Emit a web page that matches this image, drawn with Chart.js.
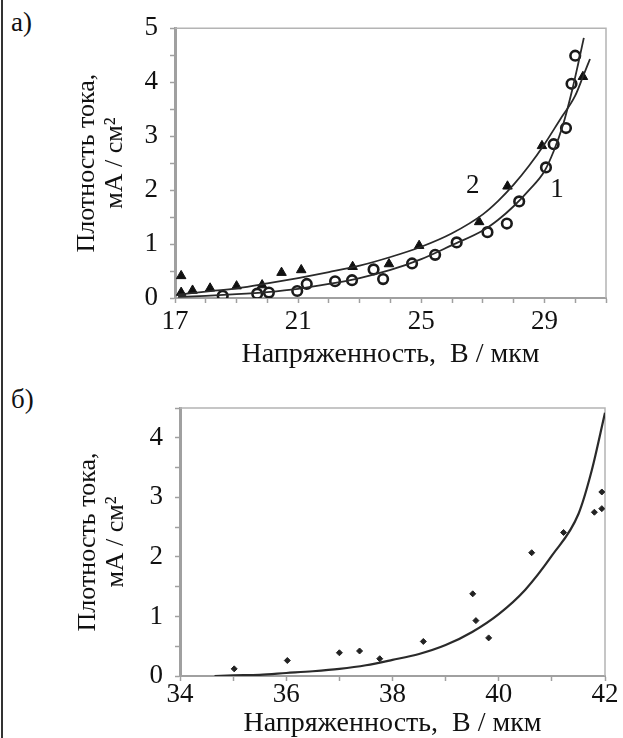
<!DOCTYPE html>
<html lang="ru">
<head>
<meta charset="utf-8">
<title>Плотность тока</title>
<script src="https://cdn.jsdelivr.net/npm/chart.js@4.4.1/dist/chart.umd.min.js"></script>
<style>
  html, body { margin: 0; padding: 0; background: #fff; }
  body { width: 623px; height: 738px; position: relative; overflow: hidden;
         font-family: "Liberation Serif", "Times New Roman", serif; color: #111; }
  .panel { position: absolute; left: 0; width: 623px; height: 369px; }
  .tag { position: absolute; left: 11px; font-size: 27px; line-height: 27px; }
  .rule { position: absolute; left: 1px; top: 0; width: 2px; height: 738px; background: #333; }
</style>
</head>
<body>
<div class="rule"></div>
<div class="tag" style="top:9px">а)</div>
<canvas id="chart-a" class="panel" style="top:0" width="623" height="369"></canvas>
<div class="tag" style="top:386px">б)</div>
<canvas id="chart-b" class="panel" style="top:369px" width="623" height="369"></canvas>

<script>
// --- panel а): two samples, measured points + fitted curves ---
const fieldA1 = [18.55, 19.67, 20.05, 20.97, 21.28, 22.2, 22.75, 23.45, 23.76, 24.7, 25.45, 26.15, 27.15, 27.78, 28.18, 29.05, 29.3, 29.7, 29.88, 30.0];
const currentA1 = [0.04, 0.08, 0.1, 0.13, 0.26, 0.31, 0.33, 0.53, 0.35, 0.64, 0.8, 1.03, 1.22, 1.38, 1.79, 2.42, 2.85, 3.15, 3.97, 4.49];

const fieldA2 = [17.2, 17.2, 17.57, 18.14, 19.0, 19.83, 20.46, 21.1, 22.77, 23.95, 24.93, 26.88, 27.8, 28.92, 30.25];
const currentA2 = [0.41, 0.1, 0.14, 0.18, 0.22, 0.24, 0.47, 0.52, 0.58, 0.63, 0.97, 1.41, 2.07, 2.82, 4.1];

const fitFieldA1 = [17.1, 18, 19, 20, 21, 22, 23, 24, 25, 26, 27, 27.5, 28, 28.5, 29, 29.3, 29.6, 29.9, 30.1, 30.28];
const fitCurrentA1 = [0.02, 0.04, 0.07, 0.11, 0.17, 0.26, 0.37, 0.52, 0.72, 0.98, 1.25, 1.45, 1.7, 2.0, 2.35, 2.72, 3.2, 3.85, 4.35, 4.82];

const fitFieldA2 = [17.1, 18, 19, 20, 21, 22, 23, 24, 25, 26, 27, 27.5, 28, 28.5, 29, 29.5, 30, 30.25, 30.48];
const fitCurrentA2 = [0.06, 0.12, 0.18, 0.27, 0.37, 0.48, 0.6, 0.76, 0.95, 1.2, 1.55, 1.8, 2.1, 2.45, 2.85, 3.3, 3.75, 4.1, 4.43];

// curve numbers: [text, field, current]
const curveTagsA = [['2', 26.67, 2.07], ['1', 29.41, 2.0]];

// --- panel б): one sample ---
const fieldB = [35.02, 36.02, 37.0, 37.38, 37.76, 38.58, 39.51, 39.57, 39.81, 40.62, 41.22, 41.8, 41.94, 41.94];
const currentB = [0.12, 0.26, 0.39, 0.42, 0.29, 0.58, 1.38, 0.93, 0.64, 2.07, 2.41, 2.75, 2.81, 3.09];

const fitFieldB = [34.65, 35, 35.5, 36, 36.5, 37, 37.5, 38, 38.5, 39, 39.5, 40, 40.5, 41, 41.5, 41.75, 42];
const fitCurrentB = [0, 0.01, 0.02, 0.05, 0.08, 0.12, 0.18, 0.27, 0.37, 0.52, 0.74, 1.04, 1.45, 2.02, 2.72, 3.45, 4.42];

const X_TITLE = 'Напряженность,  В / мкм';
const Y_TITLE = ['Плотность тока,', 'мА / см²'];

const AXIS_GREY = '#a0a0a0';
const INK = '#111';
const LINE_INK = '#2a2a2a';
const SERIF = '"Liberation Serif", "Times New Roman", serif';

Chart.defaults.font.family = SERIF;
Chart.defaults.font.size = 27;
Chart.defaults.color = INK;

function toPoints(xs, ys) {
  return xs.map((x, i) => ({ x, y: ys[i] }));
}

// grey frame along the top and right of the plot area
const framePlugin = {
  id: 'frame',
  beforeDatasetsDraw(chart) {
    const { ctx, chartArea: a } = chart;
    ctx.save();
    ctx.strokeStyle = '#b4b4b4';
    ctx.lineWidth = 1.5;
    ctx.beginPath();
    ctx.moveTo(a.left, a.top);
    ctx.lineTo(a.right, a.top);
    ctx.lineTo(a.right, a.bottom);
    ctx.stroke();
    ctx.restore();
  }
};

// numbers written next to the fitted curves
const curveTagPlugin = {
  id: 'curveTags',
  afterDatasetsDraw(chart, args, opts) {
    const tags = opts.tags || [];
    const { ctx, scales: { x, y } } = chart;
    ctx.save();
    ctx.font = '27px ' + SERIF;
    ctx.fillStyle = INK;
    ctx.textAlign = 'center';
    ctx.textBaseline = 'middle';
    tags.forEach(([text, fx, fy]) => ctx.fillText(text, x.getPixelForValue(fx), y.getPixelForValue(fy)));
    ctx.restore();
  }
};

function xAxis(min, max, labelEvery, height, tickPad) {
  return {
    type: 'linear',
    min, max,
    border: { display: true, color: AXIS_GREY, width: 2 },
    grid: { drawOnChartArea: false, tickLength: 5, color: AXIS_GREY, tickWidth: 1.5 },
    ticks: {
      stepSize: 1, padding: tickPad, autoSkip: false, maxRotation: 0,
      callback: v => ((v - min) % labelEvery === 0 ? String(v) : '')
    },
    title: { display: true, text: X_TITLE, padding: 0, font: { size: 28, lineHeight: 1 } },
    afterFit: s => { s.height = height; }
  };
}

function yAxis(max, width) {
  return {
    type: 'linear',
    min: 0, max,
    border: { display: true, color: AXIS_GREY, width: 3 },
    grid: { drawOnChartArea: false, tickLength: 5, color: AXIS_GREY, tickWidth: 1.5 },
    ticks: {
      stepSize: 0.5, padding: 12, autoSkip: false,
      callback: v => (Number.isInteger(v) ? String(v) : '')
    },
    title: { display: true, text: Y_TITLE, padding: 0, font: { size: 26, lineHeight: 28 / 26 } },
    afterFit: s => { s.width = width; }
  };
}

function fitLine(xs, ys, width) {
  return {
    data: toPoints(xs, ys),
    showLine: true,
    borderColor: LINE_INK,
    borderWidth: width,
    pointRadius: 0,
    cubicInterpolationMode: 'monotone'
  };
}

const baseOptions = {
  responsive: false,
  animation: false,
  devicePixelRatio: 1,
  plugins: { legend: { display: false }, tooltip: { enabled: false } }
};

new Chart(document.getElementById('chart-a'), {
  type: 'scatter',
  data: {
    datasets: [
      fitLine(fitFieldA1, fitCurrentA1, 1.8),
      fitLine(fitFieldA2, fitCurrentA2, 1.8),
      {
        data: toPoints(fieldA1, currentA1),
        pointStyle: 'circle', pointRadius: 4.8, pointBorderWidth: 2.6,
        borderColor: '#1a1a1a', backgroundColor: 'rgba(255,255,255,0)'
      },
      {
        data: toPoints(fieldA2, currentA2),
        pointStyle: 'triangle', pointRadius: 5.5, pointBorderWidth: 1,
        borderColor: '#111', backgroundColor: '#111'
      }
    ]
  },
  options: {
    ...baseOptions,
    layout: { padding: { left: 73, top: 18, right: 17, bottom: 0 } },
    scales: { x: xAxis(17, 31, 4, 71, 3), y: yAxis(5, 102) },
    plugins: { ...baseOptions.plugins, curveTags: { tags: curveTagsA } }
  },
  plugins: [framePlugin, curveTagPlugin]
});

new Chart(document.getElementById('chart-b'), {
  type: 'scatter',
  data: {
    datasets: [
      fitLine(fitFieldB, fitCurrentB, 2.2),
      {
        data: toPoints(fieldB, currentB),
        pointStyle: 'rectRot', pointRadius: 3, pointBorderWidth: 1,
        borderColor: '#222', backgroundColor: '#222'
      }
    ]
  },
  options: {
    ...baseOptions,
    layout: { padding: { left: 74, top: 39, right: 18, bottom: 0 } },
    scales: { x: xAxis(34, 42, 2, 62, -2), y: yAxis(4.5, 106) }
  },
  plugins: [framePlugin]
});
</script>
</body>
</html>
